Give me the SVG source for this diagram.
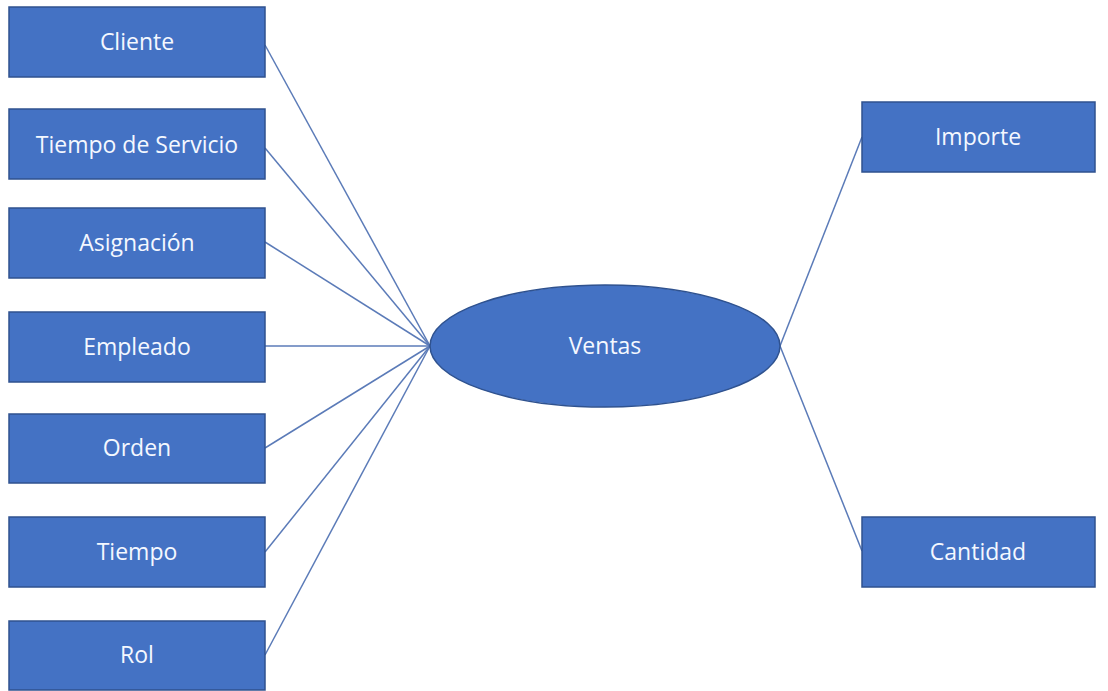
<svg xmlns="http://www.w3.org/2000/svg" width="1108" height="691" viewBox="0 0 1108 691">
<style>
.box{fill:#4472C4;stroke:#2F528F;stroke-width:1.5}
.lbl{fill:#F4F8FF;font-family:"Open Sans","Noto Sans",sans-serif;font-size:23px;text-anchor:middle;dominant-baseline:central}
.conn{stroke:#5B7BB8;stroke-width:1.5;fill:none}
</style>
<rect width="1108" height="691" fill="#FFFFFF"/>
<g id="connectors">
<line class="conn" x1="265" y1="45" x2="430" y2="346"/>
<line class="conn" x1="265" y1="148" x2="430" y2="346"/>
<line class="conn" x1="265" y1="242" x2="430" y2="346"/>
<line class="conn" x1="265" y1="346" x2="430" y2="346"/>
<line class="conn" x1="265" y1="448" x2="430" y2="346"/>
<line class="conn" x1="265" y1="552" x2="430" y2="346"/>
<line class="conn" x1="265" y1="655" x2="430" y2="346"/>
<line class="conn" x1="780" y1="346" x2="862" y2="137"/>
<line class="conn" x1="780" y1="346" x2="862" y2="551"/>
</g>
<g id="cliente"><rect class="box" x="9" y="7" width="256" height="70"/><text class="lbl" x="137" y="41">Cliente</text></g>
<g id="tiempo-servicio"><rect class="box" x="9" y="109" width="256" height="70"/><text class="lbl" x="137" y="144">Tiempo de Servicio</text></g>
<g id="asignacion"><rect class="box" x="9" y="208" width="256" height="70"/><text class="lbl" x="137" y="242">Asignación</text></g>
<g id="empleado"><rect class="box" x="9" y="312" width="256" height="70"/><text class="lbl" x="137" y="346">Empleado</text></g>
<g id="orden"><rect class="box" x="9" y="414" width="256" height="69"/><text class="lbl" x="137" y="447">Orden</text></g>
<g id="tiempo"><rect class="box" x="9" y="517" width="256" height="70"/><text class="lbl" x="137" y="551">Tiempo</text></g>
<g id="rol"><rect class="box" x="9" y="621" width="256" height="69"/><text class="lbl" x="137" y="654">Rol</text></g>
<g id="ventas"><ellipse class="box" cx="605" cy="346" rx="175" ry="61"/><text class="lbl" x="605" y="345">Ventas</text></g>
<g id="importe"><rect class="box" x="862" y="102" width="233" height="70"/><text class="lbl" x="978" y="136">Importe</text></g>
<g id="cantidad"><rect class="box" x="862" y="517" width="233" height="70"/><text class="lbl" x="978" y="551">Cantidad</text></g>
</svg>
